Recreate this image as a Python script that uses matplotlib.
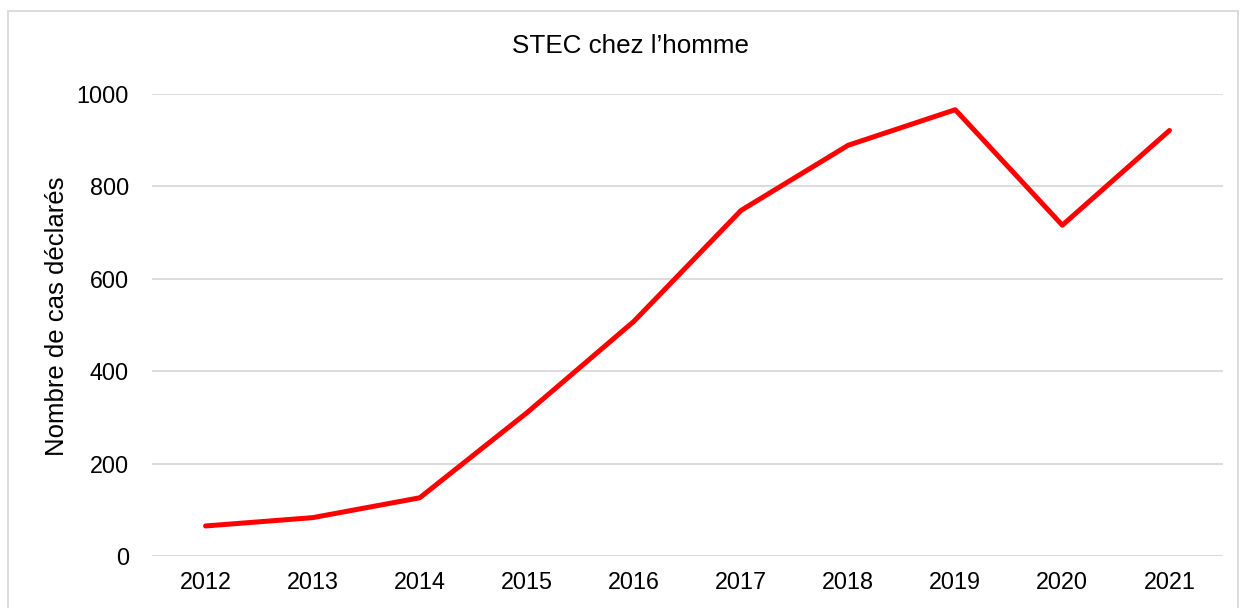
import matplotlib
matplotlib.use("Agg")
import matplotlib.pyplot as plt
from matplotlib.patches import Rectangle

years = ["2012", "2013", "2014", "2015", "2016", "2017", "2018", "2019", "2020", "2021"]
cases = [65, 83, 126, 310, 508, 748, 889, 966, 716, 921]
yticks = [0, 200, 400, 600, 800, 1000]

plt.rcParams['font.family'] = ['Liberation Sans', 'DejaVu Sans']

W, H = 1243, 608
fig = plt.figure(figsize=(W / 100, H / 100), dpi=100)
ax = fig.add_axes([152 / W, (H - 556) / H, 1071 / W, 462 / H])

x = list(range(len(years)))
ax.plot(x, cases, color="#ff0000", linewidth=3.6, solid_joinstyle="round", solid_capstyle="round", zorder=3)

ax.set_xlim(-0.5, len(years) - 0.5)
ax.set_ylim(0, 1000)
ax.set_xticks(x)
ax.set_xticklabels(years)
ax.set_yticks(yticks)
ax.set_yticklabels([str(v) for v in yticks])
ax.tick_params(axis="both", length=0, labelsize=16.8, colors="black")
ax.tick_params(axis="x", pad=10.5)
ax.tick_params(axis="y", pad=16.5)
ax.grid(axis="y", color="#d9d9d9", linewidth=1.3)
ax.set_axisbelow(True)
for s in ax.spines.values():
    s.set_visible(False)

fig.text(57 / W, 1 - 316.5 / H, "Nombre de cas déclarés", rotation=90,
         ha="center", va="center", fontsize=18.5)
fig.text(631 / W, 1 - 46 / H, "STEC chez l\u2019homme", ha="center", va="center", fontsize=18.7)

border = Rectangle((8 / W, -0.05), (1238 - 8) / W, 1 - 11 / H + 0.05, transform=fig.transFigure,
                   fill=False, edgecolor="#d9d9d9", linewidth=1.3)
fig.patches.append(border)

fig.savefig("out.png", dpi=100)
